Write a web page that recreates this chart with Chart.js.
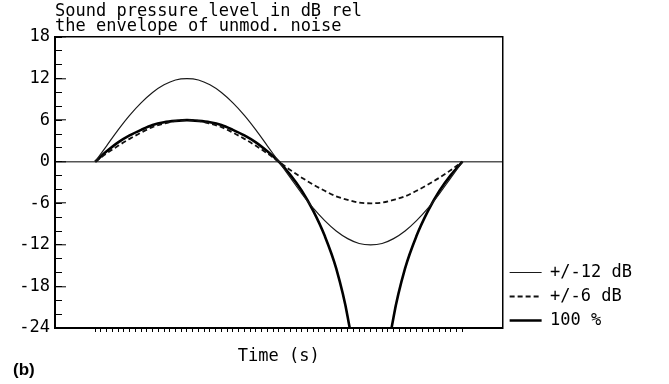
<!DOCTYPE html>
<html lang="en">
<head>
    <meta charset="UTF-8">
    <title>Sound pressure level</title>
    <script src="https://cdn.jsdelivr.net/npm/chart.js"></script>
    <style>
        body {
            margin: 0;
            background-color: #fff;
        }
        .chart-box {
            width: 669px;
            height: 384px;
        }
    </style>
</head>
<body>
    <div class="chart-box">
        <canvas id="splChart"></canvas>
    </div>

    <script>
        // time samples (one modulation period) and levels in dB
        const times = [0, 2, 4, 6, 8, 10, 12, 14, 16, 18, 20, 22, 24, 26, 28, 30, 32,
                       34, 36, 38, 40, 42, 44, 46, 48, 50, 52, 54, 56, 58, 60, 62, 64];
        const mod12 = [0, 2.3, 4.6, 6.7, 8.5, 10.0, 11.1, 11.8, 12.0, 11.8, 11.1, 10.0, 8.5, 6.7, 4.6, 2.3, 0,
                       -2.3, -4.6, -6.7, -8.5, -10.0, -11.1, -11.8, -12.0, -11.8, -11.1, -10.0, -8.5, -6.7, -4.6, -2.3, 0];
        const mod6 = [0, 1.2, 2.3, 3.3, 4.2, 5.0, 5.5, 5.9, 6.0, 5.9, 5.5, 5.0, 4.2, 3.3, 2.3, 1.2, 0,
                      -1.2, -2.3, -3.3, -4.2, -5.0, -5.5, -5.9, -6.0, -5.9, -5.5, -5.0, -4.2, -3.3, -2.3, -1.2, 0];
        const mod100 = [0, 1.5, 2.8, 3.8, 4.6, 5.3, 5.7, 5.9, 6.0, 5.9, 5.7, 5.3, 4.6, 3.8, 2.8, 1.5, 0,
                        -1.9, -4.2, -7.1, -10.7, -15.4, -22.4, -34, -60, -34, -22.4, -15.4, -10.7, -7.1, -4.2, -1.9, 0];
        const seriesNames = ['+/-12 dB', '+/-6 dB', '100 %'];
        const yTicksMajor = 6;   // labelled ticks -24 ... 18
        const yTicksMinor = 2;

        const mono = "'DejaVu Sans Mono', monospace";

        function points(values) {
            return times.map((t, i) => ({ x: t, y: values[i] }));
        }

        // the legend sits a little lower than 'end' alignment puts it
        const legendNudge = {
            id: 'legendNudge',
            afterLayout(chart) {
                if (chart.legend) {
                    chart.legend.top += 8;
                    chart.legend.bottom += 8;
                }
            }
        };

        const ctx = document.getElementById('splChart').getContext('2d');
        const splChart = new Chart(ctx, {
            type: 'line',
            data: {
                datasets: [{
                    label: seriesNames[0],
                    data: points(mod12),
                    borderColor: '#1a1a1a',
                    borderWidth: 1.2
                }, {
                    label: seriesNames[1],
                    data: points(mod6),
                    borderColor: '#111',
                    borderWidth: 1.8,
                    borderDash: [5, 3]
                }, {
                    label: seriesNames[2],
                    data: points(mod100),
                    borderColor: '#000',
                    borderWidth: 2.6
                }]
            },
            options: {
                responsive: true,
                maintainAspectRatio: false,
                animation: false,
                layout: {
                    padding: { left: 13, top: 4, right: 27, bottom: 7 }
                },
                elements: {
                    point: { radius: 0 },
                    line: { cubicInterpolationMode: 'monotone', fill: false }
                },
                scales: {
                    x: {
                        type: 'linear',
                        position: 'bottom',
                        min: -7,
                        max: 71,
                        ticks: { display: false, stepSize: 1 },
                        afterBuildTicks: (scale) => {
                            scale.ticks = scale.ticks.filter(t => t.value >= 0 && t.value <= 64);
                        },
                        grid: { drawOnChartArea: false, tickLength: 4, tickColor: '#000', tickWidth: 1 },
                        border: { color: '#000', width: 2 },
                        title: {
                            display: true,
                            text: 'Time (s)',
                            color: '#000',
                            font: { family: mono, size: 17, lineHeight: '12px' },
                            padding: 0
                        },
                        afterFit: (scale) => { scale.height = 35; }
                    },
                    xTop: {
                        type: 'linear',
                        position: 'top',
                        min: -7,
                        max: 71,
                        ticks: { display: false },
                        grid: { display: false },
                        border: { display: true, color: '#000', width: 1.5 },
                        afterFit: (scale) => { scale.height = 0; }
                    },
                    y: {
                        position: 'left',
                        min: -24,
                        max: 18,
                        ticks: {
                            stepSize: yTicksMajor,
                            color: '#000',
                            font: { family: mono, size: 17 },
                            padding: 16
                        },
                        grid: {
                            // only the 0 dB reference line is drawn across the plot
                            color: (c) => (c.tick && c.tick.value === 0) ? '#555' : 'rgba(0,0,0,0)',
                            lineWidth: 1.6,
                            tickLength: -11,
                            tickColor: '#000',
                            tickWidth: 1
                        },
                        border: { color: '#000', width: 2 },
                        afterFit: (scale) => { scale.width = 42; }
                    },
                    yMinor: {
                        position: 'left',
                        weight: -1,
                        min: -24,
                        max: 18,
                        ticks: { display: false, stepSize: yTicksMinor },
                        grid: { drawOnChartArea: false, tickLength: -7, tickColor: '#000', tickWidth: 1 },
                        border: { display: false },
                        afterFit: (scale) => { scale.width = 0; }
                    },
                    yRight: {
                        position: 'right',
                        min: -24,
                        max: 18,
                        ticks: { display: false },
                        grid: { display: false },
                        border: { display: true, color: '#000', width: 1.5 },
                        afterFit: (scale) => { scale.width = 0; }
                    }
                },
                plugins: {
                    title: {
                        display: true,
                        text: ['Sound pressure level in dB rel', 'the envelope of unmod. noise'],
                        align: 'start',
                        fullSize: false,
                        color: '#000',
                        font: { family: mono, size: 17, weight: 'normal', lineHeight: '15px' },
                        padding: { top: 0, bottom: 3 }
                    },
                    subtitle: {
                        display: true,
                        text: '(b)',
                        position: 'bottom',
                        align: 'start',
                        color: '#000',
                        font: { family: "'Liberation Sans', Arial, sans-serif", size: 17, weight: 'bold', lineHeight: '14px' },
                        padding: 0
                    },
                    legend: {
                        position: 'right',
                        align: 'end',
                        fullSize: false,
                        maxWidth: 220,
                        labels: {
                            usePointStyle: true,
                            pointStyle: 'line',
                            pointStyleWidth: 32,
                            padding: 7,
                            color: '#000',
                            font: { family: mono, size: 17 },
                            // take dash and width from the line, not from the point style
                            generateLabels: (chart) => {
                                const items = Chart.defaults.plugins.legend.labels.generateLabels(chart);
                                items.forEach(item => {
                                    const ds = chart.data.datasets[item.datasetIndex];
                                    item.lineDash = ds.borderDash || [];
                                    item.lineWidth = ds.borderWidth;
                                    item.strokeStyle = ds.borderColor;
                                });
                                return items;
                            }
                        }
                    },
                    tooltip: { enabled: false }
                }
            },
            plugins: [legendNudge]
        });
    </script>
</body>
</html>
